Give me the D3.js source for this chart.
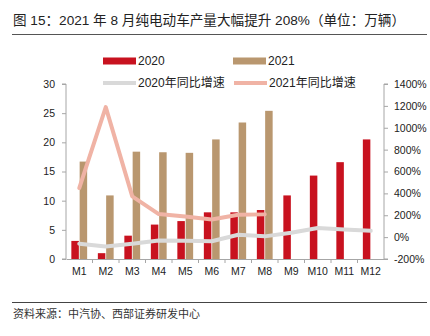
<!DOCTYPE html>
<html><head><meta charset="utf-8">
<script src="https://cdn.jsdelivr.net/npm/d3@7"></script>
<style>
html,body{margin:0;padding:0;background:#fff;}
svg{display:block;}
text{font-family:"Liberation Sans",Arial,"Noto Sans CJK SC",sans-serif;}
</style></head>
<body><svg id="c" width="430" height="336"></svg>
<script>
const categories = ["M1","M2","M3","M4","M5","M6","M7","M8","M9","M10","M11","M12"];
const prod2020 = [3.1,1.0,4.0,5.9,6.5,8.0,8.0,8.4,10.9,14.3,16.6,20.5];
const prod2021 = [16.7,10.9,18.4,18.3,18.2,20.5,23.4,25.4,null,null,null,null];
const yoy2020 = [-60,-85,-60,-30,-33,-38,22,7,40,83,70,58];
const yoy2021 = [449,1189,372,211,189,162,205,208,null,null,null,null];
const leftTicks = [0,5,10,15,20,25,30];
const rightTicks = [-200,0,200,400,600,800,1000,1200,1400];
const titleText = "图 15：2021 年 8 月纯电动车产量大幅提升 208%（单位：万辆）";
const sourceText = "资料来源：中汽协、西部证券研发中心";
const seriesNames = ["2020","2021","2020年同比增速","2021年同比增速"];

const colors = {r:"#c8121f", t:"#b9976f", g:"#d9d9d9", p:"#f0b3a5", axis:"#a6a6a6"};
const svg = d3.select("#c");
const L=66, R=384, T=84, B=259;

const x = d3.scaleBand().domain(categories).range([L,R]);
const yL = d3.scaleLinear().domain([0,30]).range([B,T]);
const yR = d3.scaleLinear().domain([-200,1400]).range([B,T]);
const bw = 7.5, gap = 0.8;

// title
svg.append("text").attr("x",13).attr("y",25).attr("font-size",13.6)
  .attr("fill","#222").attr("font-family","'Liberation Sans','Noto Sans CJK SC',sans-serif")
  .text(titleText);
svg.append("line").attr("x1",12).attr("x2",427).attr("y1",34.5).attr("y2",34.5)
  .attr("stroke","#555").attr("stroke-width",1.2);

// bars
svg.append("g").selectAll("rect").data(prod2020).join("rect")
  .attr("x",(d,i)=>x(categories[i])+x.bandwidth()/2-bw-gap/2)
  .attr("width",bw).attr("y",d=>yL(d)).attr("height",d=>B-yL(d)).attr("fill",colors.r);
svg.append("g").selectAll("rect").data(prod2021.map((v,i)=>({v,i})).filter(d=>d.v!=null)).join("rect")
  .attr("x",d=>x(categories[d.i])+x.bandwidth()/2+gap/2)
  .attr("width",bw).attr("y",d=>yL(d.v)).attr("height",d=>B-yL(d.v)).attr("fill",colors.t);

// axes
const axL = svg.append("g").attr("transform",`translate(${L},0)`)
  .call(d3.axisLeft(yL).tickValues(leftTicks).tickSize(4).tickPadding(7));
const axR = svg.append("g").attr("transform",`translate(${R},0)`)
  .call(d3.axisRight(yR).tickValues(rightTicks).tickSize(4).tickPadding(6).tickFormat(d=>d+"%"));
const axB = svg.append("g").attr("transform",`translate(0,${B})`)
  .call(d3.axisBottom(x).tickSize(0).tickPadding(9));
[axL,axR,axB].forEach(a=>{
  a.select(".domain").attr("stroke",colors.axis);
  a.selectAll(".tick line").attr("stroke",colors.axis);
  a.selectAll("text").attr("font-size",10.5).attr("fill","#222").attr("font-family","'Liberation Sans',Arial,sans-serif");
});
axL.select(".domain").attr("d",`M-4,${T}H0V${B}H-4`);
axR.select(".domain").attr("d",`M4,${T}H0V${B}H4`);
// x category separators
svg.append("g").selectAll("line").data(categories.slice(1)).join("line")
  .attr("x1",d=>x(d)).attr("x2",d=>x(d)).attr("y1",B).attr("y2",B+4)
  .attr("stroke",colors.axis);

// lines
const line2020 = d3.line().x((d,i)=>x(categories[i])+x.bandwidth()/2).y(d=>yR(d));
svg.append("path").attr("d",line2020(yoy2020)).attr("fill","none").attr("stroke",colors.g)
  .attr("stroke-width",4).attr("stroke-linejoin","round").attr("stroke-linecap","round");
const v21 = yoy2021.map((v,i)=>({v,i})).filter(d=>d.v!=null);
const line2021 = d3.line().x(d=>x(categories[d.i])+x.bandwidth()/2).y(d=>yR(d.v));
svg.append("path").attr("d",line2021(v21)).attr("fill","none").attr("stroke",colors.p)
  .attr("stroke-width",4).attr("stroke-linejoin","round").attr("stroke-linecap","round");

// legend
const leg = [
  {n:seriesNames[0],x:103,y:61,type:"rect",c:colors.r},
  {n:seriesNames[1],x:233,y:61,type:"rect",c:colors.t},
  {n:seriesNames[2],x:103,y:83,type:"line",c:colors.g},
  {n:seriesNames[3],x:234,y:83,type:"line",c:colors.p}];
const lg = svg.append("g").selectAll("g").data(leg).join("g").attr("transform",d=>`translate(${d.x},${d.y})`);
lg.each(function(d){
  const g=d3.select(this);
  if(d.type==="rect") g.append("rect").attr("x",0).attr("y",-3.5).attr("width",33).attr("height",7).attr("fill",d.c);
  else g.append("line").attr("x1",0).attr("x2",33).attr("y1",0).attr("y2",0).attr("stroke",d.c).attr("stroke-width",4);
  g.append("text").attr("x",35).attr("y",4.2).attr("font-size",12).attr("fill","#222")
    .attr("font-family","'Liberation Sans','Noto Sans CJK SC',sans-serif").text(d.n);
});

// source
svg.append("line").attr("x1",12).attr("x2",427).attr("y1",302.5).attr("y2",302.5).attr("stroke","#444").attr("stroke-width",1.2);
svg.append("text").attr("x",13).attr("y",318).attr("font-size",11).attr("fill","#333")
  .attr("font-family","'Noto Sans CJK SC',sans-serif").text(sourceText);
</script></body></html>
